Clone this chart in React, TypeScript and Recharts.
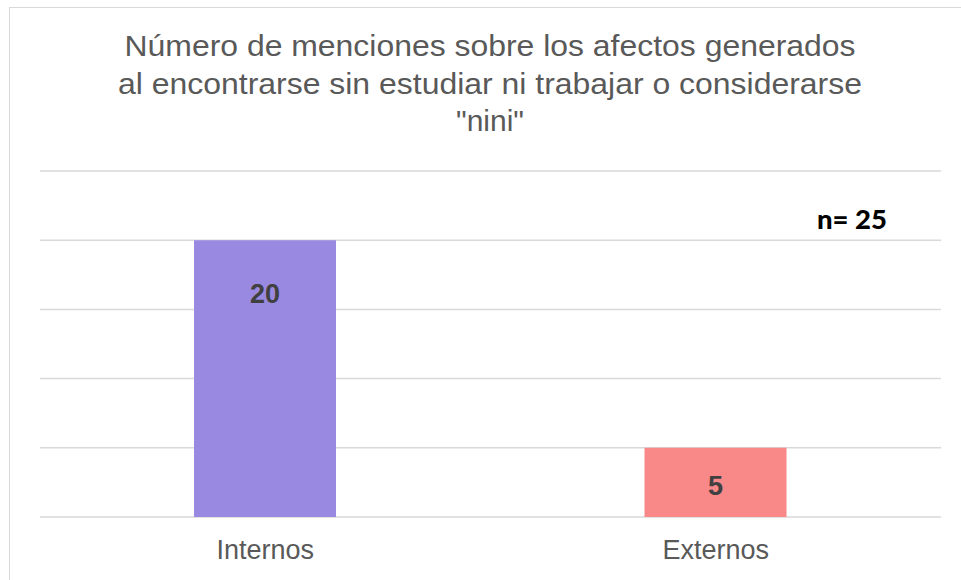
import { BarChart, Bar, XAxis, YAxis, CartesianGrid, Cell, LabelList } from "recharts";

const categories = ["Internos", "Externos"];
const menciones = [20, 5];
const barColors = ["#9A89E0", "#F98889"];
const yTicks = [0, 5, 10, 15, 20, 25];
const titleLines = [
  "Número de menciones sobre los afectos generados",
  "al encontrarse sin estudiar ni trabajar o considerarse",
  "\"nini\"",
];
const sampleNote = "n= 25";

const data = categories.map((categoria, i) => ({ categoria, menciones: menciones[i] }));

const FONT = "'Liberation Sans', Arial, sans-serif";
// title drawn a bit wider than the font, like the original export
const titleWidths = [731, 744, 68];
const titleBaselines = [56, 93.5, 131];
// distance from bar top to label baseline
const labelDrop = [63, 47];

function ValueLabel(props: any) {
  const { x, y, width, value, index } = props;
  return (
    <text
      x={x + width / 2}
      y={y + labelDrop[index]}
      textAnchor="middle"
      fill="#404040"
      fontSize={27}
      fontWeight="bold"
      fontFamily={FONT}
    >
      {value}
    </text>
  );
}

export default function App() {
  return (
    <div
      style={{
        position: "absolute",
        left: 0,
        top: 0,
        width: 961,
        height: 580,
        overflow: "hidden",
        background: "#fff",
      }}
    >
      <div
        style={{
          position: "absolute",
          left: 9,
          top: 7,
          width: 1000,
          height: 600,
          borderLeft: "1.5px solid #d9d9d9",
          borderTop: "1.5px solid #d9d9d9",
        }}
      />
      <BarChart
        width={961}
        height={580}
        data={data}
        margin={{ top: 171, right: 20, left: 40, bottom: 23 }}
        style={{ position: "absolute", left: 0, top: 0 }}
      >
        <CartesianGrid vertical={false} stroke="#d9d9d9" strokeWidth={1.5} />
        <YAxis hide domain={[0, 25]} ticks={yTicks} />
        <XAxis
          dataKey="categoria"
          height={40}
          axisLine={false}
          tickLine={false}
          tickSize={0}
          tickMargin={23}
          tick={{ fill: "#595959", fontSize: 27, fontFamily: FONT }}
        />
        <Bar dataKey="menciones" barSize={142} isAnimationActive={false}>
          {data.map((d, i) => (
            <Cell key={d.categoria} fill={barColors[i]} />
          ))}
          <LabelList dataKey="menciones" content={<ValueLabel />} />
        </Bar>
      </BarChart>
      <svg
        width={961}
        height={580}
        style={{ position: "absolute", left: 0, top: 0, pointerEvents: "none" }}
      >
        {titleLines.map((line, i) => (
          <text
            key={i}
            x={490}
            y={titleBaselines[i]}
            textAnchor="middle"
            fill="#595959"
            fontSize={29}
            fontFamily={FONT}
            textLength={titleWidths[i]}
            lengthAdjust="spacingAndGlyphs"
          >
            {line}
          </text>
        ))}
        <text
          x={852}
          y={229}
          textAnchor="middle"
          fill="#000"
          fontSize={26}
          fontWeight={900}
          fontFamily="Lato, 'Open Sans', sans-serif"
          textLength={70}
          lengthAdjust="spacingAndGlyphs"
        >
          {sampleNote}
        </text>
      </svg>
    </div>
  );
}
